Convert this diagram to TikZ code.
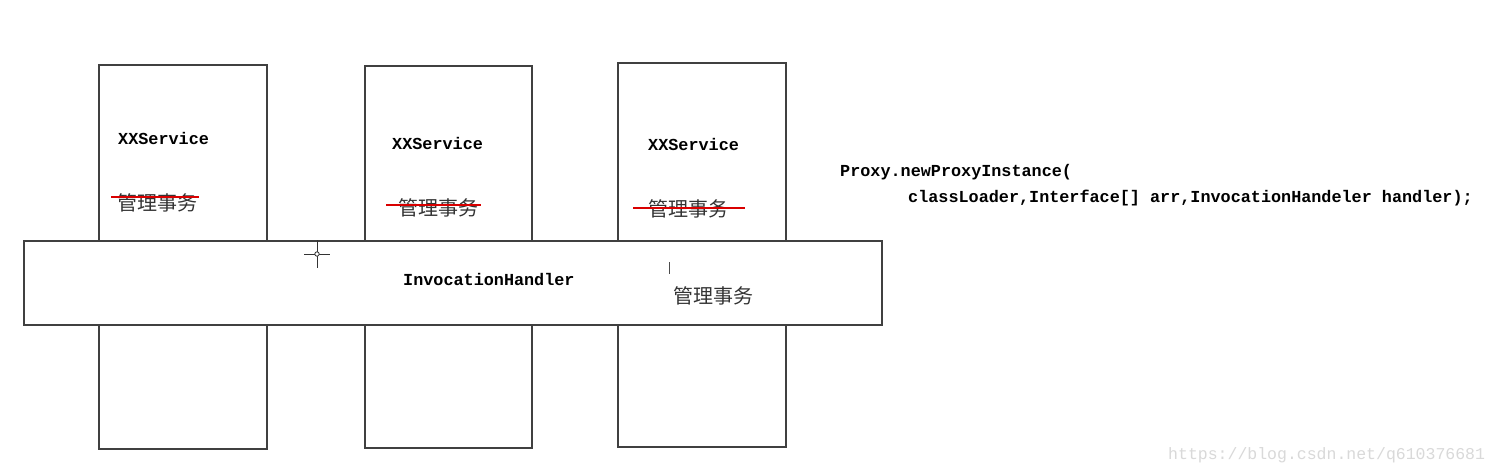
\documentclass[tikz,border=0pt]{standalone}
\usepackage{fontspec}
\setmonofont{Liberation Mono}
\newfontfamily\cjk{Noto Sans CJK SC}
\begin{document}
\begin{tikzpicture}[x=1pt,y=-1pt,
    box/.style={draw=black!75,line width=1.3pt},
    svc/.style={font=\ttfamily\bfseries\fontsize{16.8}{18}\selectfont,anchor=west,inner sep=0pt},
    cn/.style={font=\cjk\fontsize{20}{22}\selectfont,text=black!80,anchor=west,inner sep=0pt},
    strike/.style={draw=red!85!black,line width=1.2pt}]
  \useasboundingbox[fill=white] (0,0) rectangle (1498,475);
  % three services
  \draw[box] (99,65) rectangle (267,449);
  \draw[box] (365,66) rectangle (532,448);
  \draw[box] (618,63) rectangle (786,447);
  \node[svc] (s1) at (118,138) {XXService};
  \node[svc] (s2) at (392,143) {XXService};
  \node[svc] (s3) at (648,144) {XXService};
  \node[cn] (t1) at (117,203) {管理事务};
  \node[cn] (t2) at (398,208) {管理事务};
  \node[cn] (t3) at (648,209) {管理事务};
  \draw[strike] (111,197) -- (199,197);
  \draw[strike] (386,205) -- (481,205);
  \draw[strike] (633,208) -- (745,208);
  % handler
  \draw[box,fill=white] (24,241) rectangle (882,325);
  \node[svc] (h) at (403,279) {InvocationHandler};
  \node[cn] (th) at (673,296) {管理事务};
  % cursors
  \draw[black!80,line width=1pt] (317,240) -- (317,268) (304,254) -- (330,254);
  \draw[black!80,fill=white,line width=0.8pt] (317,254) circle (2.2);
  \draw[black!70,line width=0.8pt] (669,262) -- (669,274);
  % code
  \node[svc] (p1) at (840,172) {Proxy.newProxyInstance(};
  \node[svc] (p2) at (908,198) {classLoader,Interface[] arr,InvocationHandeler handler);};
  \node[anchor=west,inner sep=0pt,text=black!15,font=\fontspec{Liberation Mono}\fontsize{16.5}{18}\selectfont] (w) at (1168,455) {https://blog.csdn.net/q610376681};
\end{tikzpicture}
\end{document}
